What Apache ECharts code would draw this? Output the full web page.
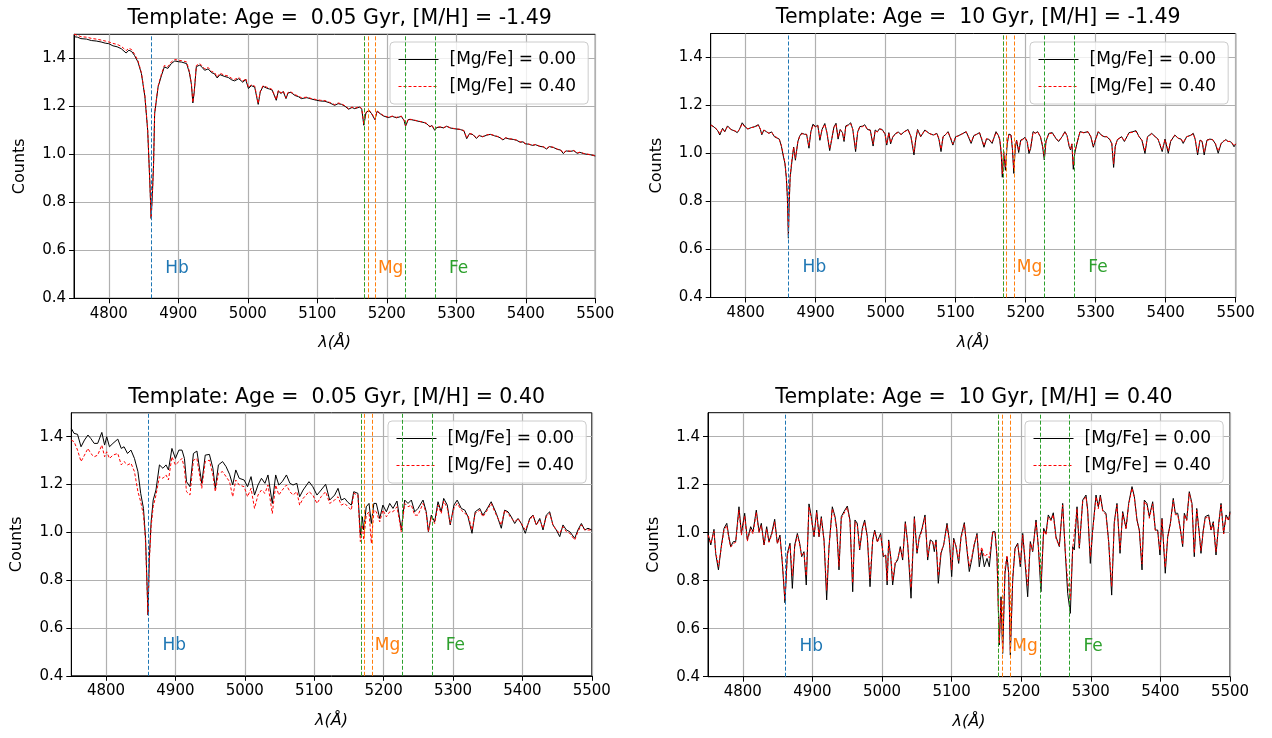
<!DOCTYPE html>
<html><head><meta charset="utf-8">
<script src="https://cdn.jsdelivr.net/npm/echarts@6/dist/echarts.min.js"></script>
<style>html,body{margin:0;padding:0;background:#fff}#c{width:1272px;height:738px}</style>
</head><body><div id="c"></div>
<script>
// ---------------- DATA ----------------
const titles = [
  'Template: Age =  0.05 Gyr, [M/H] = -1.49',
  'Template: Age =  10 Gyr, [M/H] = -1.49',
  'Template: Age =  0.05 Gyr, [M/H] = 0.40',
  'Template: Age =  10 Gyr, [M/H] = 0.40'
];
const seriesNames = ['[Mg/Fe] = 0.00', '[Mg/Fe] = 0.40'];
const xTicks = [4800, 4900, 5000, 5100, 5200, 5300, 5400, 5500];
const yTicks = [0.4, 0.6, 0.8, 1.0, 1.2, 1.4];
const hbLines = [4861.3];
const mgLines = [5167.3, 5172.7, 5183.6];
const feLines = [5167.5, 5227.2, 5269.5];

// Panel 1: Age 0.05 Gyr, [M/H] = -1.49
const wave1 = [4750,4755,4760,4768,4775,4782,4789,4795,4800,4806,
  4812,4818,4825,4829,4833,4837,4842,4847,4852,4856,
  4859,4861,4863,4864.5,4866,4871,4876,4880,4885,4890,
  4895,4900,4905,4912,4916,4919,4921,4923,4926,4931,
  4935,4938,4943,4948,4952,4956,4960,4966,4972,4977,
  4981,4987,4993,4997,5001,5005,5010,5015,5018,5022,
  5027,5031,5035,5041,5044,5048,5051,5055,5058,5062,
  5068,5073,5077,5085,5092,5099,5105,5111,5118,5125,
  5130,5135,5140,5145,5150,5154,5161,5164,5167,5170,
  5174,5178,5183,5186,5190,5195,5202,5208,5214,5221,
  5225,5227,5231,5236,5242,5248,5254,5258,5262,5265,
  5269,5272,5277,5282,5286,5291,5296,5301,5306,5311,
  5315,5319,5324,5329,5333,5338,5344,5349,5355,5360,
  5363,5367,5371,5376,5382,5387,5392,5396,5399,5404,
  5410,5414,5420,5425,5430,5434,5440,5446,5450,5454,
  5458,5464,5469,5474,5478,5483,5488,5493,5497,5500];
const p1MgFe000 = [1.490,1.488,1.482,1.480,1.474,1.472,1.468,1.463,1.461,1.452,
  1.448,1.440,1.422,1.434,1.428,1.412,1.385,1.336,1.240,1.100,
  0.890,0.732,0.850,0.961,1.169,1.281,1.330,1.364,1.358,1.378,
  1.389,1.386,1.384,1.378,1.340,1.290,1.214,1.260,1.365,1.372,
  1.360,1.350,1.356,1.340,1.336,1.318,1.332,1.325,1.320,1.310,
  1.306,1.315,1.300,1.312,1.274,1.286,1.280,1.208,1.260,1.283,
  1.276,1.272,1.268,1.225,1.264,1.253,1.262,1.232,1.256,1.258,
  1.245,1.240,1.232,1.236,1.230,1.225,1.222,1.221,1.214,1.204,
  1.211,1.208,1.200,1.188,1.195,1.190,1.197,1.188,1.121,1.172,
  1.183,1.170,1.144,1.179,1.170,1.160,1.153,1.158,1.152,1.158,
  1.140,1.117,1.145,1.144,1.140,1.136,1.132,1.126,1.114,1.120,
  1.100,1.112,1.113,1.110,1.117,1.110,1.107,1.105,1.103,1.098,
  1.065,1.086,1.082,1.066,1.078,1.073,1.080,1.083,1.077,1.073,
  1.069,1.060,1.068,1.064,1.062,1.058,1.050,1.052,1.044,1.042,
  1.037,1.040,1.033,1.031,1.022,1.032,1.028,1.020,1.018,1.003,
  1.014,1.012,1.015,1.004,1.008,1.003,1.000,0.998,0.995,0.993];
const p1MgFe040 = [1.500,1.496,1.490,1.488,1.483,1.480,1.476,1.472,1.468,1.462,
  1.458,1.450,1.432,1.442,1.436,1.418,1.390,1.340,1.244,1.102,
  0.892,0.735,0.852,0.962,1.170,1.285,1.336,1.370,1.365,1.385,
  1.395,1.392,1.390,1.385,1.345,1.292,1.216,1.262,1.370,1.378,
  1.366,1.356,1.362,1.345,1.342,1.322,1.338,1.330,1.326,1.316,
  1.312,1.320,1.305,1.316,1.278,1.290,1.284,1.212,1.262,1.286,
  1.280,1.276,1.270,1.228,1.266,1.256,1.264,1.236,1.258,1.260,
  1.248,1.243,1.236,1.238,1.232,1.228,1.225,1.224,1.216,1.207,
  1.214,1.210,1.202,1.190,1.197,1.192,1.199,1.190,1.124,1.174,
  1.185,1.172,1.146,1.181,1.172,1.162,1.155,1.159,1.154,1.159,
  1.142,1.120,1.147,1.145,1.141,1.137,1.133,1.128,1.116,1.121,
  1.102,1.114,1.114,1.111,1.118,1.111,1.108,1.106,1.104,1.099,
  1.068,1.087,1.083,1.068,1.079,1.074,1.081,1.084,1.078,1.074,
  1.070,1.062,1.069,1.065,1.063,1.059,1.052,1.053,1.045,1.043,
  1.038,1.041,1.034,1.032,1.024,1.033,1.029,1.021,1.019,1.005,
  1.015,1.013,1.016,1.006,1.009,1.004,1.001,0.999,0.996,0.994];

// Panel 2: Age 10 Gyr, [M/H] = -1.49
const wave2 = [4750,4755,4760,4763,4767,4770,4774,4779,4784,4788,
  4791,4795,4799,4803,4808,4813,4818,4821,4823,4826,
  4830,4833,4837,4841,4845,4848,4851,4854,4856,4858,
  4859.5,4861,4862,4863.5,4866,4868.5,4871,4874.5,4877,4880,
  4884,4887,4890.4,4893,4896,4900,4903,4906,4909,4913,
  4916,4920,4923,4926,4929,4932,4935,4938,4940.5,4943,
  4947,4950,4953,4957,4960,4963,4967,4970,4974,4978,
  4982,4985,4988,4991,4995,4999,5001.5,5004.5,5007,5010,
  5014,5018,5022,5026,5032,5036,5040.4,5043,5045.5,5050,
  5056,5062,5068,5073,5076,5079,5082,5086,5089,5093,
  5096,5100,5103,5108,5115,5118,5122,5126,5130,5134,
  5137,5140.4,5144,5147,5152,5157.6,5161,5163,5165,5166.6,
  5168.5,5171,5173.5,5176,5179,5181,5183,5185,5187,5190,
  5193,5196,5199,5202,5204.7,5207,5210.5,5214,5217,5221,
  5224,5226.6,5229,5233,5238,5243,5247,5252,5256,5259,
  5262,5264,5266,5268,5270,5273,5277.6,5283,5289,5293,
  5296.6,5300,5303.7,5308,5312,5316,5320.6,5323,5325.6,5328,
  5331,5337,5341,5347.7,5352,5357.6,5362,5366,5370.4,5374,
  5380,5385,5389,5395,5399,5403.7,5407,5413,5418,5422,
  5425,5430,5435,5439.4,5442,5445.6,5449,5452,5455,5459,
  5463,5467,5471,5475,5479,5482,5486,5489,5492,5495,
  5497.6,5500];
const p2MgFe000 = [1.120,1.110,1.095,1.077,1.105,1.090,1.115,1.100,1.094,1.087,
  1.100,1.128,1.112,1.102,1.108,1.112,1.120,1.100,1.078,1.098,
  1.090,1.084,1.090,1.070,1.064,1.060,1.030,0.985,0.960,0.900,
  0.820,0.647,0.780,0.900,0.966,1.027,0.972,1.050,1.072,1.085,
  1.080,1.080,1.022,1.090,1.122,1.112,1.118,1.055,1.100,1.125,
  1.087,1.012,1.060,1.110,1.126,1.060,1.100,1.088,1.050,1.115,
  1.120,1.128,1.100,1.008,1.090,1.112,1.114,1.120,1.100,1.098,
  1.031,1.098,1.090,1.103,1.100,1.082,1.035,1.087,1.040,1.068,
  1.083,1.090,1.078,1.090,1.100,1.070,0.994,1.060,1.100,1.070,
  1.098,1.084,1.077,1.084,1.060,1.008,1.070,1.080,1.091,1.060,
  1.035,1.070,1.073,1.080,1.091,1.070,1.042,1.075,1.080,1.087,
  1.060,1.026,1.060,1.060,1.042,1.091,1.075,1.056,1.000,0.901,
  1.008,0.930,1.040,1.081,1.077,1.020,0.917,1.020,1.056,1.004,
  1.056,1.060,1.067,1.050,1.000,1.020,1.091,1.085,1.091,1.070,
  1.030,0.973,1.050,1.084,1.087,1.063,1.050,1.070,1.091,1.075,
  1.030,1.015,1.040,0.934,1.000,1.040,1.091,1.087,1.091,1.070,
  1.026,1.060,1.091,1.077,1.070,1.070,1.056,1.040,0.942,1.030,
  1.058,1.070,1.050,1.087,1.090,1.095,1.070,1.055,1.000,1.070,
  1.084,1.070,1.060,1.008,1.060,1.001,1.050,1.077,1.063,1.060,
  1.042,1.070,1.075,1.084,1.060,0.994,1.056,1.050,0.994,1.056,
  1.060,1.058,1.040,1.001,1.040,1.050,1.058,1.050,1.050,1.042,
  1.028,1.040];
const p2MgFe040 = [1.118,1.110,1.098,1.082,1.104,1.092,1.112,1.100,1.095,1.090,
  1.100,1.124,1.110,1.103,1.108,1.110,1.118,1.102,1.082,1.097,
  1.090,1.085,1.088,1.072,1.066,1.058,1.034,0.990,0.964,0.905,
  0.825,0.660,0.785,0.905,0.975,1.025,0.980,1.048,1.070,1.082,
  1.082,1.078,1.030,1.088,1.118,1.110,1.116,1.062,1.098,1.122,
  1.088,1.020,1.062,1.108,1.122,1.066,1.098,1.090,1.058,1.112,
  1.118,1.124,1.100,1.020,1.090,1.110,1.112,1.118,1.100,1.096,
  1.040,1.096,1.090,1.102,1.098,1.082,1.040,1.086,1.045,1.068,
  1.082,1.088,1.080,1.090,1.098,1.072,1.005,1.062,1.098,1.072,
  1.096,1.084,1.076,1.083,1.064,1.018,1.070,1.080,1.090,1.064,
  1.040,1.070,1.072,1.080,1.090,1.072,1.048,1.074,1.080,1.086,
  1.064,1.032,1.062,1.060,1.046,1.088,1.074,1.060,1.008,0.915,
  1.010,0.945,1.042,1.078,1.076,1.025,0.935,1.025,1.056,1.012,
  1.055,1.058,1.066,1.052,1.008,1.022,1.088,1.084,1.090,1.070,
  1.036,0.985,1.052,1.082,1.085,1.064,1.052,1.070,1.090,1.074,
  1.036,1.020,1.040,0.950,1.005,1.040,1.090,1.086,1.090,1.070,
  1.032,1.060,1.090,1.076,1.070,1.070,1.058,1.044,0.958,1.032,
  1.058,1.068,1.052,1.086,1.088,1.092,1.070,1.056,1.010,1.068,
  1.082,1.070,1.060,1.015,1.058,1.010,1.052,1.076,1.064,1.060,
  1.046,1.070,1.074,1.082,1.062,1.005,1.056,1.050,1.005,1.055,
  1.058,1.058,1.042,1.010,1.042,1.050,1.057,1.050,1.051,1.044,
  1.032,1.040];

// Panel 3: Age 0.05 Gyr, [M/H] = 0.40
const wave3 = [4750,4754,4759,4764,4769,4774,4778,4783,4788,4794,
  4798,4801,4805,4810,4817,4822,4826,4831,4836,4841,
  4846,4850,4854,4857,4859,4860.5,4862.4,4865,4868,4872,
  4877,4882,4886.5,4890,4895,4900,4905,4909.5,4913,4916,
  4921,4926,4931,4934,4938,4943,4949,4954,4957.5,4962,
  4968,4973,4978,4982.6,4987,4992,4999,5004,5009,5014,
  5019,5024,5029,5033.4,5039.6,5044.5,5049,5054,5060,5065,
  5069.5,5075,5079,5084,5092.5,5098,5104,5110,5116.5,5122.3,
  5129.5,5134.3,5139,5144,5148.7,5153.5,5157,5163,5166.5,5169.4,
  5171.3,5175,5179,5182.3,5186,5189.5,5194.4,5199,5204,5208.8,
  5213.5,5219.3,5225.5,5230.4,5235.2,5240,5244.8,5249.6,5256.8,5261.5,
  5264.5,5268.7,5273.6,5278.4,5283,5286.6,5291.8,5296,5301.4,5306,
  5312,5317,5321.6,5327.4,5332,5338.5,5343,5348,5355,5362.4,
  5369.6,5374.5,5379.3,5384,5388.9,5393.7,5398.4,5404.2,5410.5,5415.3,
  5420,5425,5429.7,5434.4,5439.3,5444,5448.8,5453.8,5458.5,5463.3,
  5468.2,5475.4,5480,5485,5489.8,5494.5,5500];
const p3MgFe000 = [1.435,1.414,1.410,1.358,1.386,1.407,1.393,1.372,1.372,1.418,
  1.365,1.400,1.358,1.372,1.390,1.351,1.358,1.330,1.344,1.309,
  1.254,1.163,1.100,0.975,0.793,0.654,0.891,1.044,1.135,1.177,
  1.282,1.268,1.282,1.261,1.351,1.309,1.344,1.344,1.309,1.212,
  1.191,1.330,1.340,1.282,1.205,1.323,1.326,1.268,1.184,1.282,
  1.296,1.275,1.243,1.198,1.261,1.226,1.219,1.191,1.233,1.156,
  1.198,1.226,1.205,1.240,1.121,1.240,1.198,1.212,1.240,1.205,
  1.198,1.205,1.149,1.177,1.212,1.191,1.156,1.177,1.201,1.135,
  1.156,1.184,1.135,1.142,1.125,1.114,1.170,1.163,0.989,1.065,
  1.010,1.107,1.121,1.037,1.121,1.121,1.058,1.114,1.086,1.121,
  1.100,1.131,1.010,1.135,1.121,1.135,1.086,1.100,1.135,1.086,
  1.003,1.072,1.044,1.128,1.086,1.142,1.114,1.031,1.114,1.135,
  1.100,1.093,1.065,0.996,1.086,1.100,1.072,1.093,1.128,1.079,
  1.017,1.093,1.086,1.065,1.037,1.058,1.037,0.996,1.058,1.072,
  1.031,1.058,1.010,1.072,1.086,1.031,1.010,0.982,1.031,1.010,
  1.003,0.975,1.010,1.037,1.010,1.017,1.010];
const p3MgFe040 = [1.386,1.379,1.344,1.296,1.323,1.351,1.330,1.316,1.323,1.365,
  1.316,1.337,1.309,1.323,1.330,1.282,1.296,1.282,1.289,1.254,
  1.170,1.128,1.072,0.961,0.786,0.654,0.877,1.024,1.107,1.156,
  1.233,1.226,1.240,1.219,1.316,1.282,1.296,1.309,1.268,1.170,
  1.156,1.302,1.309,1.254,1.184,1.296,1.302,1.240,1.170,1.247,
  1.254,1.233,1.212,1.149,1.219,1.198,1.191,1.149,1.184,1.100,
  1.156,1.177,1.163,1.198,1.079,1.198,1.156,1.177,1.198,1.170,
  1.156,1.170,1.114,1.142,1.170,1.156,1.121,1.149,1.170,1.121,
  1.135,1.149,1.114,1.121,1.107,1.093,1.163,1.156,0.961,1.031,
  0.968,1.072,1.086,0.954,1.093,1.086,1.044,1.093,1.065,1.086,
  1.086,1.107,1.003,1.121,1.107,1.114,1.072,1.072,1.121,1.079,
  1.003,1.065,1.037,1.114,1.079,1.131,1.100,1.037,1.100,1.121,
  1.093,1.079,1.072,1.010,1.079,1.093,1.065,1.086,1.121,1.072,
  1.031,1.093,1.079,1.058,1.044,1.058,1.037,1.010,1.051,1.072,
  1.031,1.051,1.017,1.065,1.079,1.031,1.010,0.996,1.024,1.003,
  0.996,0.968,1.003,1.031,1.010,1.010,1.010];

// Panel 4: Age 10 Gyr, [M/H] = 0.40
const wave4 = [4750,4754,4758.6,4761,4765,4769,4773,4777,4780,4782.6,
  4786.4,4789.8,4794.5,4798,4802.7,4806.5,4811.3,4814.7,4819.4,4823.3,
  4826.6,4830.5,4834.3,4837.6,4841.5,4845.8,4849.6,4853.4,4856.8,4860.6,
  4864,4867.8,4871.2,4874.6,4878.4,4881.7,4884.6,4887.9,4891.2,4895.1,
  4898.4,4902.3,4906.2,4909.5,4912.8,4916.7,4920.5,4923.9,4928.6,4932.5,
  4934.9,4938.2,4941.5,4945.4,4950.2,4954,4957.9,4961.2,4964.5,4967.9,
  4971.7,4975.1,4978.9,4982.8,4986.6,4989.5,4993.3,4998.1,5001.9,5005.3,
  5007.4,5009.6,5012.9,5015.3,5019.1,5022.5,5026.3,5029.7,5033.5,5036.9,
  5041.7,5046.5,5050.3,5053.6,5057,5061.8,5065.6,5069.4,5072.8,5075.2,
  5077.6,5080.9,5084.8,5088.6,5093.4,5096.7,5100.1,5103,5106.3,5110.2,
  5113.5,5118.3,5122.1,5125.4,5128.8,5132.6,5136.5,5139.8,5143.2,5147,
  5150.9,5154.2,5159,5162.4,5165.2,5168.5,5171,5173.4,5176.7,5179.6,
  5182,5184.4,5187.8,5191.1,5195,5198.7,5202.2,5205.5,5209.3,5213.1,
  5216.5,5221.3,5224.6,5228.4,5232.3,5235.6,5238.9,5242.8,5246.1,5250,
  5254.8,5259.6,5263.4,5266.8,5270.6,5274,5276.3,5280.2,5283.5,5288.4,
  5293.1,5295.5,5299.3,5302.7,5307.5,5310.8,5313.7,5317.1,5321.8,5325.7,
  5330,5333.8,5337.6,5342,5345.8,5350.6,5354.4,5359.2,5362.6,5366.4,
  5369.7,5373.6,5376.9,5380.7,5384.1,5388.9,5392.7,5396.1,5399.4,5402.3,
  5407,5410.5,5414.3,5418.5,5421.4,5424.9,5428.2,5432,5434.4,5437.8,
  5441.5,5445.4,5448.7,5452.2,5455.9,5458.3,5461.6,5464.5,5469.4,5472.7,
  5476,5479.9,5483.8,5487.1,5490.9,5494.3,5498.1,5500];
const p4MgFe000 = [0.997,0.949,1.014,0.914,0.845,0.942,1.018,1.039,0.983,0.942,
  0.963,0.963,1.108,0.997,1.081,0.970,1.025,1.004,1.094,1.004,
  1.039,0.949,1.025,0.963,0.997,1.056,0.956,0.990,0.872,0.708,
  0.914,0.956,0.768,0.949,0.997,0.956,0.900,0.921,0.782,1.120,
  1.067,0.983,1.094,0.983,1.067,0.970,0.720,0.942,1.108,1.067,
  1.018,0.845,1.067,1.088,1.111,1.053,0.754,1.053,1.039,0.928,
  1.018,1.053,0.983,0.775,0.970,1.011,0.963,0.997,0.900,0.907,
  0.782,0.970,0.886,0.782,0.872,0.886,0.942,0.886,1.046,0.956,
  0.727,1.067,0.914,0.983,1.011,1.074,0.886,0.970,0.963,0.921,
  0.970,0.789,0.914,0.949,1.039,0.970,0.817,0.977,0.942,0.872,
  0.983,1.042,0.928,0.838,0.886,0.949,0.997,0.858,0.928,0.858,
  0.893,0.858,1.004,1.004,0.900,0.532,0.733,0.497,0.831,0.900,
  0.831,0.490,0.803,0.935,0.956,0.858,0.997,0.879,0.733,0.963,
  0.921,1.053,0.942,0.754,1.018,0.997,1.074,1.053,1.083,0.983,
  0.942,1.122,0.914,0.747,0.664,0.942,0.928,1.108,0.935,1.136,
  1.157,1.094,0.872,1.011,1.157,1.108,1.157,1.094,1.081,0.963,
  0.740,1.046,1.122,0.914,1.088,1.018,1.122,1.192,1.150,1.053,
  1.011,0.845,1.136,1.122,1.067,1.129,1.011,1.011,0.907,1.060,
  0.831,0.983,1.039,1.143,1.081,1.081,1.025,0.942,1.081,1.053,
  1.171,1.122,0.900,1.101,0.997,0.914,1.011,1.067,1.074,1.011,
  1.046,0.907,1.039,1.122,0.997,1.074,1.053,1.088];
const p4MgFe040 = [0.990,0.955,1.005,0.920,0.860,0.935,1.010,1.030,0.975,0.940,
  0.955,0.960,1.095,0.990,1.070,0.965,1.015,0.995,1.085,1.000,
  1.030,0.950,1.015,0.960,0.990,1.045,0.955,0.980,0.880,0.720,
  0.905,0.950,0.820,0.940,0.990,0.950,0.905,0.915,0.820,1.110,
  1.060,0.985,1.085,0.985,1.060,0.965,0.760,0.940,1.100,1.060,
  1.010,0.860,1.060,1.080,1.105,1.045,0.790,1.045,1.030,0.935,
  1.010,1.045,0.980,0.810,0.965,1.005,0.960,0.990,0.905,0.905,
  0.800,0.965,0.890,0.800,0.880,0.890,0.935,0.895,1.040,0.955,
  0.770,1.060,0.920,0.975,1.005,1.065,0.900,0.965,0.960,0.935,
  0.965,0.820,0.920,0.950,1.030,0.965,0.845,0.970,0.945,0.885,
  0.975,1.035,0.935,0.860,0.895,0.955,0.990,0.890,0.940,0.900,
  0.910,0.895,1.000,1.000,0.905,0.540,0.720,0.510,0.850,0.905,
  0.830,0.505,0.815,0.930,0.950,0.870,0.990,0.890,0.780,0.955,
  0.925,1.045,0.945,0.790,1.010,0.990,1.065,1.050,1.075,0.975,
  0.945,1.115,0.920,0.800,0.720,0.935,0.935,1.100,0.940,1.130,
  1.150,1.090,0.900,1.005,1.150,1.100,1.150,1.090,1.075,0.960,
  0.775,1.040,1.115,0.930,1.080,1.015,1.115,1.185,1.145,1.050,
  1.010,0.870,1.130,1.115,1.060,1.120,1.010,1.005,0.925,1.055,
  0.855,0.980,1.035,1.135,1.075,1.075,1.020,0.950,1.075,1.050,
  1.165,1.115,0.915,1.095,0.995,0.925,1.005,1.060,1.068,1.010,
  1.040,0.920,1.035,1.115,0.995,1.068,1.050,1.080];

// ---------------- LAYOUT / STYLE ----------------
const BLUE = '#1f77b4', ORANGE = '#ff7f0e', GREEN = '#2ca02c';
const FONT = 'DejaVu Sans';
const panels = [
  {wave: wave1, a: p1MgFe000, b: p1MgFe040, grid: {left: 74, top: 34.3, width: 521.3, height: 264}, legend: {left: 390, top: 42}},
  {wave: wave2, a: p2MgFe000, b: p2MgFe040, grid: {left: 710.7, top: 33.5, width: 525, height: 264}, legend: {left: 1030, top: 42}},
  {wave: wave3, a: p3MgFe000, b: p3MgFe040, grid: {left: 71.3, top: 412.8, width: 520.5, height: 263}, legend: {left: 388, top: 421}},
  {wave: wave4, a: p4MgFe000, b: p4MgFe040, grid: {left: 708, top: 412.7, width: 522, height: 264}, legend: {left: 1025, top: 421}}
];
const LABEL_DX = 20, LABEL_Y = 0.525;

const option = {
  animation: false,
  backgroundColor: '#ffffff',
  title: [], grid: [], xAxis: [], yAxis: [], legend: [], series: []
};

panels.forEach((p, i) => {
  const g = p.grid;
  option.grid.push({left: g.left, top: g.top, width: g.width, height: g.height, show: true,
    borderColor: '#000', borderWidth: 1, backgroundColor: 'transparent'});
  option.title.push({text: titles[i], left: g.left + g.width / 2, top: g.top - 31, textAlign: 'center',
    textStyle: {fontFamily: FONT, fontSize: 20.5, fontWeight: 'normal', color: '#000'}});
  option.xAxis.push({type: 'value', gridIndex: i, min: 4750, max: 5500,
    name: 'λ(Å)', nameLocation: 'middle', nameGap: 37,
    nameTextStyle: {fontFamily: FONT, fontSize: 16, fontStyle: 'italic', color: '#000'},
    axisLine: {show: true, onZero: false, lineStyle: {color: '#000', width: 1}},
    axisTick: {show: true, length: 5, inside: false, customValues: xTicks, lineStyle: {color: '#000'}},
    axisLabel: {customValues: xTicks, fontFamily: FONT, fontSize: 15, color: '#000', margin: 8,
      formatter: v => String(v)},
    splitLine: {show: true, lineStyle: {color: '#b0b0b0', width: 1.2}}
  });
  option.yAxis.push({type: 'value', gridIndex: i, min: 0.4, max: 1.5,
    name: 'Counts', nameLocation: 'middle', nameGap: 46,
    nameTextStyle: {fontFamily: FONT, fontSize: 16, color: '#000'},
    axisLine: {show: true, onZero: false, lineStyle: {color: '#000', width: 1}},
    axisTick: {show: true, length: 5, customValues: yTicks, lineStyle: {color: '#000'}},
    axisLabel: {customValues: yTicks, fontFamily: FONT, fontSize: 15, color: '#000', margin: 8,
      formatter: v => Number(v).toFixed(1)},
    splitLine: {show: true, lineStyle: {color: '#b0b0b0', width: 1.2}}
  });
  option.legend.push({left: p.legend.left, top: p.legend.top, orient: 'vertical',
    data: seriesNames, itemWidth: 40, itemHeight: 14, itemGap: 10,
    padding: [9, 12, 9, 8], backgroundColor: 'rgba(255,255,255,0.8)',
    borderColor: '#cccccc', borderWidth: 1, borderRadius: 4,
    itemStyle: {opacity: 0, borderWidth: 0},
    lineStyle: {width: 1},
    textStyle: {fontFamily: FONT, fontSize: 17, color: '#000', padding: [0, 0, 0, 6]},
    selectedMode: false});
  option.series.push({type: 'line', name: seriesNames[0], xAxisIndex: i, yAxisIndex: i,
    data: p.wave.map((w, k) => [w, p.a[k]]), symbol: 'none', showSymbol: false,
    lineStyle: {color: '#000', width: 1}, itemStyle: {color: '#000'}, z: 3});
  option.series.push({type: 'line', name: seriesNames[1], xAxisIndex: i, yAxisIndex: i,
    data: p.wave.map((w, k) => [w, p.b[k]]), symbol: 'none', showSymbol: false,
    lineStyle: {color: '#ff0000', width: 1, type: [3, 2]}, itemStyle: {color: '#ff0000'}, z: 4});
  const ml = [];
  hbLines.forEach(w => ml.push({xAxis: w, lineStyle: {color: BLUE}}));
  mgLines.forEach(w => ml.push({xAxis: w, lineStyle: {color: ORANGE}}));
  feLines.forEach(w => ml.push({xAxis: w, lineStyle: {color: GREEN}}));
  option.series.push({type: 'scatter', name: 'lines' + i, xAxisIndex: i, yAxisIndex: i,
    symbolSize: 0, z: 2, silent: true, itemStyle: {opacity: 1},
    data: [
      {value: [hbLines[0] + LABEL_DX, LABEL_Y], name: 'Hb', label: {color: BLUE}},
      {value: [mgLines[0] + LABEL_DX, LABEL_Y], name: 'Mg', label: {color: ORANGE}},
      {value: [feLines[2] + LABEL_DX, LABEL_Y], name: 'Fe', label: {color: GREEN}}
    ],
    label: {show: true, position: 'right', distance: 0, formatter: d => d.name,
      fontFamily: FONT, fontSize: 17, opacity: 1},
    markLine: {silent: true, symbol: ['none', 'none'], label: {show: false},
      lineStyle: {type: [4, 2], width: 1, opacity: 1}, data: ml}
  });
});

const chart = echarts.init(document.getElementById('c'), null, {renderer: 'canvas'});
chart.setOption(option);
</script>
</body></html>
